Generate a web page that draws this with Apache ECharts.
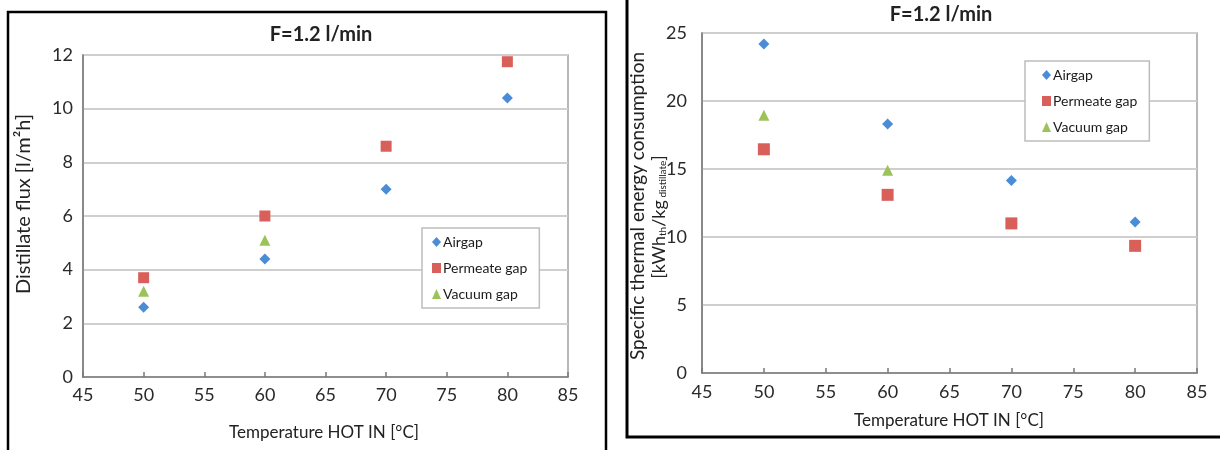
<!DOCTYPE html>
<html>
<head>
<meta charset="utf-8">
<script src="https://cdn.jsdelivr.net/npm/echarts@6/dist/echarts.min.js"></script>
<style>
html,body{margin:0;padding:0;background:#fff;}
#c{width:1220px;height:450px;}
</style>
</head>
<body>
<div id="c"></div>
<script>
// ---- data ----
const temps = [50, 60, 70, 80];
const tempsVac = [50, 60];
const fluxAirgap = [2.6, 4.4, 7.0, 10.4];
const fluxPermeate = [3.7, 6.0, 8.6, 11.75];
const fluxVacuum = [3.2, 5.1];
const steAirgap = [24.2, 18.3, 14.15, 11.1];
const stePermeate = [16.45, 13.1, 11.0, 9.35];
const steVacuum = [18.95, 14.9];
const seriesNames = ['Airgap', 'Permeate gap', 'Vacuum gap'];
const xTicks = [45, 50, 55, 60, 65, 70, 75, 80, 85];
const yTicksFlux = [0, 2, 4, 6, 8, 10, 12];
const yTicksSte = [0, 5, 10, 15, 20, 25];

const FONT = 'Lato, "Open Sans", sans-serif';
const colors = {Airgap: '#4A8DD6', 'Permeate gap': '#D9605A', 'Vacuum gap': '#9CC35A'};
const symbols = {Airgap: 'diamond', 'Permeate gap': 'rect', 'Vacuum gap': 'triangle'};

function pairs(xs, ys) { return xs.map((x, i) => [x, ys[i]]); }

function xAxis(gi) {
  return {
    type: 'value', gridIndex: gi, min: xTicks[0], max: xTicks[xTicks.length - 1], interval: 5,
    axisLine: {show: true, lineStyle: {color: '#7a7a7a', width: 1.5}},
    axisTick: {show: true, inside: true, length: 5, lineStyle: {color: '#7a7a7a', width: 1.5}},
    axisLabel: {color: '#2a2a2a', fontSize: 18, fontFamily: FONT, margin: gi === 0 ? 9 : 10},
    splitLine: {show: false}
  };
}
function yAxis(gi, ticks) {
  return {
    type: 'value', gridIndex: gi, min: ticks[0], max: ticks[ticks.length - 1], interval: ticks[1] - ticks[0],
    axisLine: {show: true, lineStyle: {color: '#7a7a7a', width: 1.5}},
    axisTick: {show: false},
    axisLabel: {color: '#2a2a2a', fontSize: 18, fontFamily: FONT, margin: gi === 0 ? 10 : 15},
    splitLine: {show: true, lineStyle: {color: '#cfcfcf', width: 2}}
  };
}
function sc(name, gi, data, size) {
  return {
    name: name, type: 'scatter', xAxisIndex: gi, yAxisIndex: gi,
    symbol: symbols[name], symbolSize: size,
    itemStyle: {color: colors[name], opacity: 1},
    data: data, z: 5
  };
}
function legend(left, top, padLeft) {
  return {
    orient: 'vertical', left: left, top: top,
    data: seriesNames.map(n => ({name: n, icon: symbols[n]})),
    itemWidth: 9, itemHeight: 10, itemGap: 12,
    padding: [7, 12, 7, padLeft],
    borderColor: '#bdbdbd', borderWidth: 1.5, backgroundColor: '#fff',
    textStyle: {color: '#1a1a1a', fontSize: 14, fontFamily: FONT, padding: [0, 0, 0, -3]},
    selectedMode: false
  };
}

const chart = echarts.init(document.getElementById('c'), null, {renderer: 'canvas'});
chart.setOption({
  animation: false,
  backgroundColor: '#fff',
  grid: [
    {left: 83, right: 1220 - 568, top: 55, bottom: 450 - 377, show: true, borderColor: '#a0a0a0', borderWidth: 1.5, backgroundColor: 'transparent'},
    {left: 702, right: 1220 - 1197, top: 33, bottom: 450 - 373, show: true, borderColor: '#a0a0a0', borderWidth: 1.5, backgroundColor: 'transparent'}
  ],
  xAxis: [xAxis(0), xAxis(1)],
  yAxis: [yAxis(0, yTicksFlux), yAxis(1, yTicksSte)],
  legend: [legend(422, 228, 10), legend(1025, 61, 17)],
  series: [
    sc('Airgap', 0, pairs(temps, fluxAirgap), 11),
    sc('Permeate gap', 0, pairs(temps, fluxPermeate), 11),
    sc('Vacuum gap', 0, pairs(tempsVac, fluxVacuum), 11),
    sc('Airgap', 1, pairs(temps, steAirgap), 11),
    sc('Permeate gap', 1, pairs(temps, stePermeate), 12),
    sc('Vacuum gap', 1, pairs(tempsVac, steVacuum), 11)
  ],
  graphic: [
    {type: 'rect', shape: {x: 8, y: 12, width: 598, height: 460}, style: {fill: 'none', stroke: '#000', lineWidth: 2.5}, z: 100},
    {type: 'rect', shape: {x: 627, y: -10, width: 620, height: 447}, style: {fill: 'none', stroke: '#000', lineWidth: 3}, z: 100},
    {type: 'text', x: 321, y: 35, style: {text: 'F=1.2 l/min', font: 'bold 20px ' + FONT, fill: '#222', textAlign: 'center', textVerticalAlign: 'middle'}, z: 100},
    {type: 'text', x: 941, y: 15, style: {text: 'F=1.2 l/min', font: 'bold 20px ' + FONT, fill: '#222', textAlign: 'center', textVerticalAlign: 'middle'}, z: 100},
    {type: 'text', x: 324, y: 433, style: {text: 'Temperature HOT IN [°C]', font: '17px ' + FONT, fill: '#222', textAlign: 'center', textVerticalAlign: 'middle'}, z: 100},
    {type: 'text', x: 949, y: 421, style: {text: 'Temperature HOT IN [°C]', font: '17px ' + FONT, fill: '#222', textAlign: 'center', textVerticalAlign: 'middle'}, z: 100},
    {type: 'text', x: 24, y: 204, rotation: Math.PI / 2, style: {text: 'Distillate flux [l/m²h]', font: '20px ' + FONT, fill: '#222', textAlign: 'center', textVerticalAlign: 'middle'}, z: 100},
    {type: 'text', x: 638, y: 206, rotation: Math.PI / 2, style: {text: 'Specific thermal energy consumption', font: '19px ' + FONT, fill: '#222', textAlign: 'center', textVerticalAlign: 'middle'}, z: 100},
    {type: 'text', x: 659, y: 217, rotation: Math.PI / 2, style: {
      text: '{n|[kWh}{s|th}{n|/kg}{s| distillate}{n|]}',
      textAlign: 'center', textVerticalAlign: 'middle',
      rich: {
        n: {font: '18px ' + FONT, fill: '#222', color: '#222', verticalAlign: 'middle'},
        s: {font: '10px ' + FONT, fill: '#222', color: '#222', padding: [8, 0, 0, 0], verticalAlign: 'bottom'}
      }
    }, z: 100}
  ]
});
</script>
</body>
</html>
